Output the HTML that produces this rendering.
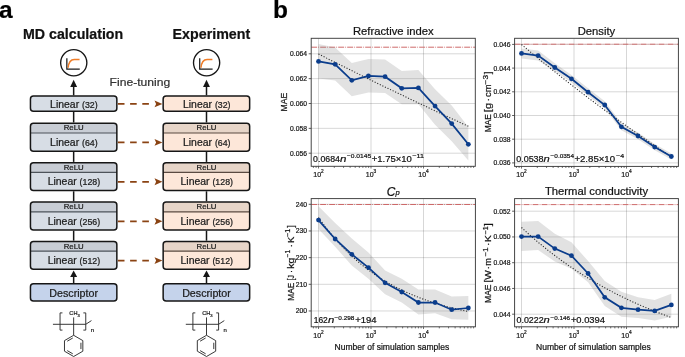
<!DOCTYPE html>
<html><head><meta charset="utf-8"><style>
html,body{margin:0;padding:0;background:#fff;width:685px;height:357px;overflow:hidden;font-family:"Liberation Sans",sans-serif;}
svg{display:block;will-change:transform}
svg text{stroke:#161616;stroke-width:0.22px;}
</style></head><body>
<svg width="685" height="357" viewBox="0 0 685 357" font-family="'Liberation Sans', sans-serif"><text x="-0.9" y="18.4" font-size="24.5" font-weight="bold" fill="#000">a</text>
<text x="272.9" y="18.4" font-size="24.5" font-weight="bold" fill="#000">b</text>
<text x="23" y="38.6" font-size="14.1" font-weight="bold" fill="#111" textLength="100.2" lengthAdjust="spacingAndGlyphs">MD calculation</text>
<text x="172.6" y="38.6" font-size="14.1" font-weight="bold" fill="#111" textLength="77.6" lengthAdjust="spacingAndGlyphs">Experiment</text>
<circle cx="73.75" cy="62.8" r="13.1" fill="#fff" stroke="#161616" stroke-width="1.35"/>
<path d="M66.85,58.30 V69.00 H79.75" fill="none" stroke="#1a1a1a" stroke-width="1.25"/>
<path d="M68.15,67.80 C68.65,61.80 70.35,59.50 74.25,59.50 L79.55,59.50" fill="none" stroke="#ef7d28" stroke-width="1.5"/>
<line x1="73.65" y1="95.3" x2="73.65" y2="86" stroke="#161616" stroke-width="1.5"/>
<path d="M73.65,79.8 L77.10000000000001,86.9 L70.2,86.9 Z" fill="#161616"/>
<rect x="30.45" y="96.05" width="86.40" height="15.10" rx="3" fill="#d7dde5" stroke="#161616" stroke-width="1.5"/>
<text x="73.90" y="107.8" text-anchor="middle" fill="#222"><tspan font-size="10.45">Linear</tspan><tspan font-size="8.8" dx="2.9">(32)</tspan></text>
<line x1="73.65" y1="111.90" x2="73.65" y2="122.50" stroke="#161616" stroke-width="1.5"/>
<rect x="30.45" y="123.25" width="86.40" height="27.90" rx="3" fill="#d7dde5"/>
<path d="M30.45,133.00 V126.25 Q30.45,123.25 33.45,123.25 H113.85 Q116.85,123.25 116.85,126.25 V133.00 Z" fill="#c8cdd5"/>
<line x1="30.45" y1="133.00" x2="116.85" y2="133.00" stroke="#4d535a" stroke-width="1.2"/>
<rect x="30.45" y="123.25" width="86.40" height="27.90" rx="3" fill="none" stroke="#161616" stroke-width="1.5"/>
<text x="73.65" y="130.40" text-anchor="middle" font-size="7.8" fill="#222">ReLU</text>
<text x="73.90" y="145.70" text-anchor="middle" fill="#222"><tspan font-size="10.45">Linear</tspan><tspan font-size="8.8" dx="2.9">(64)</tspan></text>
<line x1="73.65" y1="151.90" x2="73.65" y2="161.90" stroke="#161616" stroke-width="1.5"/>
<rect x="30.45" y="162.65" width="86.40" height="27.90" rx="3" fill="#d7dde5"/>
<path d="M30.45,172.40 V165.65 Q30.45,162.65 33.45,162.65 H113.85 Q116.85,162.65 116.85,165.65 V172.40 Z" fill="#c8cdd5"/>
<line x1="30.45" y1="172.40" x2="116.85" y2="172.40" stroke="#4d535a" stroke-width="1.2"/>
<rect x="30.45" y="162.65" width="86.40" height="27.90" rx="3" fill="none" stroke="#161616" stroke-width="1.5"/>
<text x="73.65" y="169.80" text-anchor="middle" font-size="7.8" fill="#222">ReLU</text>
<text x="73.90" y="185.10" text-anchor="middle" fill="#222"><tspan font-size="10.45">Linear</tspan><tspan font-size="8.8" dx="2.9">(128)</tspan></text>
<line x1="73.65" y1="191.30" x2="73.65" y2="201.30" stroke="#161616" stroke-width="1.5"/>
<rect x="30.45" y="202.05" width="86.40" height="27.90" rx="3" fill="#d7dde5"/>
<path d="M30.45,211.80 V205.05 Q30.45,202.05 33.45,202.05 H113.85 Q116.85,202.05 116.85,205.05 V211.80 Z" fill="#c8cdd5"/>
<line x1="30.45" y1="211.80" x2="116.85" y2="211.80" stroke="#4d535a" stroke-width="1.2"/>
<rect x="30.45" y="202.05" width="86.40" height="27.90" rx="3" fill="none" stroke="#161616" stroke-width="1.5"/>
<text x="73.65" y="209.20" text-anchor="middle" font-size="7.8" fill="#222">ReLU</text>
<text x="73.90" y="224.50" text-anchor="middle" fill="#222"><tspan font-size="10.45">Linear</tspan><tspan font-size="8.8" dx="2.9">(256)</tspan></text>
<line x1="73.65" y1="230.70" x2="73.65" y2="240.70" stroke="#161616" stroke-width="1.5"/>
<rect x="30.45" y="241.45" width="86.40" height="27.90" rx="3" fill="#d7dde5"/>
<path d="M30.45,251.20 V244.45 Q30.45,241.45 33.45,241.45 H113.85 Q116.85,241.45 116.85,244.45 V251.20 Z" fill="#c8cdd5"/>
<line x1="30.45" y1="251.20" x2="116.85" y2="251.20" stroke="#4d535a" stroke-width="1.2"/>
<rect x="30.45" y="241.45" width="86.40" height="27.90" rx="3" fill="none" stroke="#161616" stroke-width="1.5"/>
<text x="73.65" y="248.60" text-anchor="middle" font-size="7.8" fill="#222">ReLU</text>
<text x="73.90" y="263.90" text-anchor="middle" fill="#222"><tspan font-size="10.45">Linear</tspan><tspan font-size="8.8" dx="2.9">(512)</tspan></text>
<line x1="73.65" y1="283.1" x2="73.65" y2="276.5" stroke="#161616" stroke-width="1.5"/>
<path d="M73.65,270.6 L77.15,277 L70.15,277 Z" fill="#161616"/>
<rect x="30.45" y="283.85" width="86.40" height="17.10" rx="3" fill="#c5d3eb" stroke="#161616" stroke-width="1.5"/>
<text x="73.65" y="296.7" text-anchor="middle" font-size="10.7" fill="#222">Descriptor</text>
<g transform="translate(0.05,0)" stroke="#2e2e2e" stroke-width="0.95" fill="none"><path d="M62.4,312.9 H60 V330.1 H62.4"/><path d="M83.3,312.9 H85.7 V330.1 H83.3"/><path d="M52.9,324.3 H85.7 L91.4,320.6"/><path d="M73.6,317.4 V335.3"/><path d="M73.60,335.30 L82.78,340.60 L82.78,351.20 L73.60,356.50 L64.42,351.20 L64.42,340.60 Z"/><path d="M67.21,341.19 L72.71,338.01"/><path d="M80.88,342.72 L80.88,349.08"/><path d="M72.71,353.79 L67.21,350.61"/></g>
<text x="69.35" y="315.0" font-size="5.6" fill="#2a2a2a">CH<tspan font-size="4.2" dy="1.7">3</tspan></text>
<text x="90.65" y="331.9" font-size="6" fill="#2a2a2a">n</text>
<circle cx="206.60" cy="62.8" r="13.1" fill="#fff" stroke="#161616" stroke-width="1.35"/>
<path d="M199.70,58.30 V69.00 H212.60" fill="none" stroke="#1a1a1a" stroke-width="1.25"/>
<path d="M201.00,67.80 C201.50,61.80 203.20,59.50 207.10,59.50 L212.40,59.50" fill="none" stroke="#ef7d28" stroke-width="1.5"/>
<line x1="206.5" y1="95.3" x2="206.5" y2="86" stroke="#161616" stroke-width="1.5"/>
<path d="M206.5,79.8 L209.95,86.9 L203.05,86.9 Z" fill="#161616"/>
<rect x="163.15" y="96.05" width="86.50" height="15.10" rx="3" fill="#fde7d9" stroke="#161616" stroke-width="1.5"/>
<text x="206.75" y="107.8" text-anchor="middle" fill="#222"><tspan font-size="10.45">Linear</tspan><tspan font-size="8.8" dx="2.9">(32)</tspan></text>
<line x1="206.5" y1="111.90" x2="206.5" y2="122.50" stroke="#161616" stroke-width="1.5"/>
<rect x="163.15" y="123.25" width="86.50" height="27.90" rx="3" fill="#fde7d9"/>
<path d="M163.15,133.00 V126.25 Q163.15,123.25 166.15,123.25 H246.65 Q249.65,123.25 249.65,126.25 V133.00 Z" fill="#e7d5c8"/>
<line x1="163.15" y1="133.00" x2="249.65" y2="133.00" stroke="#5a4a41" stroke-width="1.2"/>
<rect x="163.15" y="123.25" width="86.50" height="27.90" rx="3" fill="none" stroke="#161616" stroke-width="1.5"/>
<text x="206.50" y="130.40" text-anchor="middle" font-size="7.8" fill="#222">ReLU</text>
<text x="206.75" y="145.70" text-anchor="middle" fill="#222"><tspan font-size="10.45">Linear</tspan><tspan font-size="8.8" dx="2.9">(64)</tspan></text>
<line x1="206.5" y1="151.90" x2="206.5" y2="161.90" stroke="#161616" stroke-width="1.5"/>
<rect x="163.15" y="162.65" width="86.50" height="27.90" rx="3" fill="#fde7d9"/>
<path d="M163.15,172.40 V165.65 Q163.15,162.65 166.15,162.65 H246.65 Q249.65,162.65 249.65,165.65 V172.40 Z" fill="#e7d5c8"/>
<line x1="163.15" y1="172.40" x2="249.65" y2="172.40" stroke="#5a4a41" stroke-width="1.2"/>
<rect x="163.15" y="162.65" width="86.50" height="27.90" rx="3" fill="none" stroke="#161616" stroke-width="1.5"/>
<text x="206.50" y="169.80" text-anchor="middle" font-size="7.8" fill="#222">ReLU</text>
<text x="206.75" y="185.10" text-anchor="middle" fill="#222"><tspan font-size="10.45">Linear</tspan><tspan font-size="8.8" dx="2.9">(128)</tspan></text>
<line x1="206.5" y1="191.30" x2="206.5" y2="201.30" stroke="#161616" stroke-width="1.5"/>
<rect x="163.15" y="202.05" width="86.50" height="27.90" rx="3" fill="#fde7d9"/>
<path d="M163.15,211.80 V205.05 Q163.15,202.05 166.15,202.05 H246.65 Q249.65,202.05 249.65,205.05 V211.80 Z" fill="#e7d5c8"/>
<line x1="163.15" y1="211.80" x2="249.65" y2="211.80" stroke="#5a4a41" stroke-width="1.2"/>
<rect x="163.15" y="202.05" width="86.50" height="27.90" rx="3" fill="none" stroke="#161616" stroke-width="1.5"/>
<text x="206.50" y="209.20" text-anchor="middle" font-size="7.8" fill="#222">ReLU</text>
<text x="206.75" y="224.50" text-anchor="middle" fill="#222"><tspan font-size="10.45">Linear</tspan><tspan font-size="8.8" dx="2.9">(256)</tspan></text>
<line x1="206.5" y1="230.70" x2="206.5" y2="240.70" stroke="#161616" stroke-width="1.5"/>
<rect x="163.15" y="241.45" width="86.50" height="27.90" rx="3" fill="#fde7d9"/>
<path d="M163.15,251.20 V244.45 Q163.15,241.45 166.15,241.45 H246.65 Q249.65,241.45 249.65,244.45 V251.20 Z" fill="#e7d5c8"/>
<line x1="163.15" y1="251.20" x2="249.65" y2="251.20" stroke="#5a4a41" stroke-width="1.2"/>
<rect x="163.15" y="241.45" width="86.50" height="27.90" rx="3" fill="none" stroke="#161616" stroke-width="1.5"/>
<text x="206.50" y="248.60" text-anchor="middle" font-size="7.8" fill="#222">ReLU</text>
<text x="206.75" y="263.90" text-anchor="middle" fill="#222"><tspan font-size="10.45">Linear</tspan><tspan font-size="8.8" dx="2.9">(512)</tspan></text>
<line x1="206.5" y1="283.1" x2="206.5" y2="276.5" stroke="#161616" stroke-width="1.5"/>
<path d="M206.5,270.6 L210.0,277 L203.0,277 Z" fill="#161616"/>
<rect x="163.15" y="283.85" width="86.50" height="17.10" rx="3" fill="#c5d3eb" stroke="#161616" stroke-width="1.5"/>
<text x="206.50" y="296.7" text-anchor="middle" font-size="10.7" fill="#222">Descriptor</text>
<g transform="translate(132.90,0)" stroke="#2e2e2e" stroke-width="0.95" fill="none"><path d="M62.4,312.9 H60 V330.1 H62.4"/><path d="M83.3,312.9 H85.7 V330.1 H83.3"/><path d="M52.9,324.3 H85.7 L91.4,320.6"/><path d="M73.6,317.4 V335.3"/><path d="M73.60,335.30 L82.78,340.60 L82.78,351.20 L73.60,356.50 L64.42,351.20 L64.42,340.60 Z"/><path d="M67.21,341.19 L72.71,338.01"/><path d="M80.88,342.72 L80.88,349.08"/><path d="M72.71,353.79 L67.21,350.61"/></g>
<text x="202.20" y="315.0" font-size="5.6" fill="#2a2a2a">CH<tspan font-size="4.2" dy="1.7">3</tspan></text>
<text x="223.50" y="331.9" font-size="6" fill="#2a2a2a">n</text>
<text x="109.6" y="85.8" font-size="11.5" fill="#333" style="stroke:#333" textLength="60.6" lengthAdjust="spacingAndGlyphs">Fine-tuning</text>
<line x1="117.9" y1="103.9" x2="154.0" y2="103.9" stroke="#8a4313" stroke-width="1.75" stroke-dasharray="6.6 5.6"/>
<path d="M162.4,103.9 L154.5,100.45 L156.1,103.9 L154.5,107.35 Z" fill="#8a4313"/>
<line x1="117.9" y1="142.4" x2="154.0" y2="142.4" stroke="#8a4313" stroke-width="1.75" stroke-dasharray="6.6 5.6"/>
<path d="M162.4,142.4 L154.5,138.95 L156.1,142.4 L154.5,145.85 Z" fill="#8a4313"/>
<line x1="117.9" y1="181.8" x2="154.0" y2="181.8" stroke="#8a4313" stroke-width="1.75" stroke-dasharray="6.6 5.6"/>
<path d="M162.4,181.8 L154.5,178.35 L156.1,181.8 L154.5,185.25 Z" fill="#8a4313"/>
<line x1="117.9" y1="221.3" x2="154.0" y2="221.3" stroke="#8a4313" stroke-width="1.75" stroke-dasharray="6.6 5.6"/>
<path d="M162.4,221.3 L154.5,217.85 L156.1,221.3 L154.5,224.75 Z" fill="#8a4313"/>
<line x1="117.9" y1="260.6" x2="154.0" y2="260.6" stroke="#8a4313" stroke-width="1.75" stroke-dasharray="6.6 5.6"/>
<path d="M162.4,260.6 L154.5,257.15 L156.1,260.6 L154.5,264.05 Z" fill="#8a4313"/>
<clipPath id="clip0"><rect x="311.2" y="38.3" width="164.10000000000002" height="128.0"/></clipPath>
<g clip-path="url(#clip0)">
<line x1="318.50" y1="38.3" x2="318.50" y2="166.3" stroke="#000" stroke-opacity="0.175" stroke-width="0.9"/>
<line x1="371.00" y1="38.3" x2="371.00" y2="166.3" stroke="#000" stroke-opacity="0.175" stroke-width="0.9"/>
<line x1="423.50" y1="38.3" x2="423.50" y2="166.3" stroke="#000" stroke-opacity="0.175" stroke-width="0.9"/>
<line x1="311.2" y1="53.80" x2="475.3" y2="53.80" stroke="#000" stroke-opacity="0.175" stroke-width="0.9"/>
<line x1="311.2" y1="78.65" x2="475.3" y2="78.65" stroke="#000" stroke-opacity="0.175" stroke-width="0.9"/>
<line x1="311.2" y1="103.50" x2="475.3" y2="103.50" stroke="#000" stroke-opacity="0.175" stroke-width="0.9"/>
<line x1="311.2" y1="128.35" x2="475.3" y2="128.35" stroke="#000" stroke-opacity="0.175" stroke-width="0.9"/>
<line x1="311.2" y1="153.20" x2="475.3" y2="153.20" stroke="#000" stroke-opacity="0.175" stroke-width="0.9"/>
<line x1="311.2" y1="47.2" x2="475.3" y2="47.2" stroke="#cb6262" stroke-width="0.95" stroke-dasharray="5.9 1.15 0.8 1.15"/>
<polygon points="318.50,44.00 335.15,47.50 351.80,63.00 368.45,59.00 385.10,59.40 401.75,70.90 418.40,70.10 435.05,89.20 451.70,105.60 468.35,127.00 468.35,160.40 451.70,141.30 435.05,124.70 418.40,104.20 401.75,104.30 385.10,93.10 368.45,92.50 351.80,96.20 335.15,80.40 318.50,78.50" fill="#7a7a7a" fill-opacity="0.22"/>
<polyline points="318.50,54.03 321.00,55.29 323.50,56.55 325.99,57.81 328.49,59.06 330.99,60.32 333.49,61.57 335.98,62.82 338.48,64.06 340.98,65.31 343.47,66.55 345.97,67.80 348.47,69.04 350.97,70.27 353.46,71.51 355.96,72.74 358.46,73.97 360.96,75.20 363.45,76.43 365.95,77.66 368.45,78.88 370.95,80.11 373.44,81.33 375.94,82.54 378.44,83.76 380.94,84.97 383.44,86.19 385.93,87.40 388.43,88.61 390.93,89.81 393.43,91.02 395.92,92.22 398.42,93.42 400.92,94.62 403.42,95.82 405.91,97.01 408.41,98.21 410.91,99.40 413.40,100.59 415.90,101.78 418.40,102.96 420.90,104.15 423.39,105.33 425.89,106.51 428.39,107.69 430.89,108.86 433.38,110.04 435.88,111.21 438.38,112.38 440.88,113.55 443.38,114.72 445.87,115.88 448.37,117.05 450.87,118.21 453.37,119.37 455.86,120.53 458.36,121.68 460.86,122.84 463.36,123.99 465.85,125.14 468.35,126.29" fill="none" stroke="#2a2a2a" stroke-width="1.1" stroke-dasharray="1.1 1.75"/>
<polyline points="318.50,61.40 335.15,64.30 351.80,80.30 368.45,76.00 385.10,76.70 401.75,88.30 418.40,87.90 435.05,106.10 451.70,123.60 468.35,144.30" fill="none" stroke="#0b3d8c" stroke-width="1.75"/>
<circle cx="318.50" cy="61.40" r="2.4" fill="#0b3d8c"/>
<circle cx="335.15" cy="64.30" r="2.4" fill="#0b3d8c"/>
<circle cx="351.80" cy="80.30" r="2.4" fill="#0b3d8c"/>
<circle cx="368.45" cy="76.00" r="2.4" fill="#0b3d8c"/>
<circle cx="385.10" cy="76.70" r="2.4" fill="#0b3d8c"/>
<circle cx="401.75" cy="88.30" r="2.4" fill="#0b3d8c"/>
<circle cx="418.40" cy="87.90" r="2.4" fill="#0b3d8c"/>
<circle cx="435.05" cy="106.10" r="2.4" fill="#0b3d8c"/>
<circle cx="451.70" cy="123.60" r="2.4" fill="#0b3d8c"/>
<circle cx="468.35" cy="144.30" r="2.4" fill="#0b3d8c"/>
</g>
<rect x="311.2" y="38.3" width="164.10" height="128.00" fill="none" stroke="#3d3d3d" stroke-width="0.95"/>
<line x1="308.7" y1="53.80" x2="311.2" y2="53.80" stroke="#333" stroke-width="0.8"/>
<text x="307.00" y="56.25" font-size="6.9" text-anchor="end" fill="#222" textLength="16.9" lengthAdjust="spacingAndGlyphs">0.064</text>
<line x1="308.7" y1="78.65" x2="311.2" y2="78.65" stroke="#333" stroke-width="0.8"/>
<text x="307.00" y="81.10" font-size="6.9" text-anchor="end" fill="#222" textLength="16.9" lengthAdjust="spacingAndGlyphs">0.062</text>
<line x1="308.7" y1="103.50" x2="311.2" y2="103.50" stroke="#333" stroke-width="0.8"/>
<text x="307.00" y="105.95" font-size="6.9" text-anchor="end" fill="#222" textLength="16.9" lengthAdjust="spacingAndGlyphs">0.060</text>
<line x1="308.7" y1="128.35" x2="311.2" y2="128.35" stroke="#333" stroke-width="0.8"/>
<text x="307.00" y="130.80" font-size="6.9" text-anchor="end" fill="#222" textLength="16.9" lengthAdjust="spacingAndGlyphs">0.058</text>
<line x1="308.7" y1="153.20" x2="311.2" y2="153.20" stroke="#333" stroke-width="0.8"/>
<text x="307.00" y="155.65" font-size="6.9" text-anchor="end" fill="#222" textLength="16.9" lengthAdjust="spacingAndGlyphs">0.056</text>
<line x1="313.41" y1="166.3" x2="313.41" y2="167.9" stroke="#333" stroke-width="0.7"/>
<line x1="316.10" y1="166.3" x2="316.10" y2="167.9" stroke="#333" stroke-width="0.7"/>
<line x1="318.50" y1="166.3" x2="318.50" y2="168.5" stroke="#333" stroke-width="0.7"/>
<line x1="334.30" y1="166.3" x2="334.30" y2="167.9" stroke="#333" stroke-width="0.7"/>
<line x1="343.55" y1="166.3" x2="343.55" y2="167.9" stroke="#333" stroke-width="0.7"/>
<line x1="350.11" y1="166.3" x2="350.11" y2="167.9" stroke="#333" stroke-width="0.7"/>
<line x1="355.20" y1="166.3" x2="355.20" y2="167.9" stroke="#333" stroke-width="0.7"/>
<line x1="359.35" y1="166.3" x2="359.35" y2="167.9" stroke="#333" stroke-width="0.7"/>
<line x1="362.87" y1="166.3" x2="362.87" y2="167.9" stroke="#333" stroke-width="0.7"/>
<line x1="365.91" y1="166.3" x2="365.91" y2="167.9" stroke="#333" stroke-width="0.7"/>
<line x1="368.60" y1="166.3" x2="368.60" y2="167.9" stroke="#333" stroke-width="0.7"/>
<line x1="371.00" y1="166.3" x2="371.00" y2="168.5" stroke="#333" stroke-width="0.7"/>
<line x1="386.80" y1="166.3" x2="386.80" y2="167.9" stroke="#333" stroke-width="0.7"/>
<line x1="396.05" y1="166.3" x2="396.05" y2="167.9" stroke="#333" stroke-width="0.7"/>
<line x1="402.61" y1="166.3" x2="402.61" y2="167.9" stroke="#333" stroke-width="0.7"/>
<line x1="407.70" y1="166.3" x2="407.70" y2="167.9" stroke="#333" stroke-width="0.7"/>
<line x1="411.85" y1="166.3" x2="411.85" y2="167.9" stroke="#333" stroke-width="0.7"/>
<line x1="415.37" y1="166.3" x2="415.37" y2="167.9" stroke="#333" stroke-width="0.7"/>
<line x1="418.41" y1="166.3" x2="418.41" y2="167.9" stroke="#333" stroke-width="0.7"/>
<line x1="421.10" y1="166.3" x2="421.10" y2="167.9" stroke="#333" stroke-width="0.7"/>
<line x1="423.50" y1="166.3" x2="423.50" y2="168.5" stroke="#333" stroke-width="0.7"/>
<line x1="439.30" y1="166.3" x2="439.30" y2="167.9" stroke="#333" stroke-width="0.7"/>
<line x1="448.55" y1="166.3" x2="448.55" y2="167.9" stroke="#333" stroke-width="0.7"/>
<line x1="455.11" y1="166.3" x2="455.11" y2="167.9" stroke="#333" stroke-width="0.7"/>
<line x1="460.20" y1="166.3" x2="460.20" y2="167.9" stroke="#333" stroke-width="0.7"/>
<line x1="464.35" y1="166.3" x2="464.35" y2="167.9" stroke="#333" stroke-width="0.7"/>
<line x1="467.87" y1="166.3" x2="467.87" y2="167.9" stroke="#333" stroke-width="0.7"/>
<line x1="470.91" y1="166.3" x2="470.91" y2="167.9" stroke="#333" stroke-width="0.7"/>
<line x1="473.60" y1="166.3" x2="473.60" y2="167.9" stroke="#333" stroke-width="0.7"/>
<text x="313.30" y="177.1" font-size="7.0" fill="#222">10<tspan font-size="4.8" dy="-4.3">2</tspan></text>
<text x="365.80" y="177.1" font-size="7.0" fill="#222">10<tspan font-size="4.8" dy="-4.3">3</tspan></text>
<text x="418.30" y="177.1" font-size="7.0" fill="#222">10<tspan font-size="4.8" dy="-4.3">4</tspan></text>
<text x="393.25" y="34.7" font-size="11.25" text-anchor="middle" fill="#111">Refractive index</text>
<text transform="translate(287.3,0) rotate(-90)" fill="#111" font-size="9.2"><tspan x="-111.45" y="0" textLength="18.70" lengthAdjust="spacingAndGlyphs">MAE</tspan></text>
<clipPath id="clip1"><rect x="514.6" y="38.3" width="163.79999999999995" height="128.10000000000002"/></clipPath>
<g clip-path="url(#clip1)">
<line x1="521.50" y1="38.3" x2="521.50" y2="166.4" stroke="#000" stroke-opacity="0.175" stroke-width="0.9"/>
<line x1="574.00" y1="38.3" x2="574.00" y2="166.4" stroke="#000" stroke-opacity="0.175" stroke-width="0.9"/>
<line x1="626.50" y1="38.3" x2="626.50" y2="166.4" stroke="#000" stroke-opacity="0.175" stroke-width="0.9"/>
<line x1="514.6" y1="44.40" x2="678.4" y2="44.40" stroke="#000" stroke-opacity="0.175" stroke-width="0.9"/>
<line x1="514.6" y1="68.10" x2="678.4" y2="68.10" stroke="#000" stroke-opacity="0.175" stroke-width="0.9"/>
<line x1="514.6" y1="91.80" x2="678.4" y2="91.80" stroke="#000" stroke-opacity="0.175" stroke-width="0.9"/>
<line x1="514.6" y1="115.50" x2="678.4" y2="115.50" stroke="#000" stroke-opacity="0.175" stroke-width="0.9"/>
<line x1="514.6" y1="139.20" x2="678.4" y2="139.20" stroke="#000" stroke-opacity="0.175" stroke-width="0.9"/>
<line x1="514.6" y1="162.90" x2="678.4" y2="162.90" stroke="#000" stroke-opacity="0.175" stroke-width="0.9"/>
<line x1="514.6" y1="44.2" x2="678.4" y2="44.2" stroke="#cb6262" stroke-width="0.95" stroke-dasharray="5.9 1.15 0.8 1.15"/>
<polygon points="521.50,48.60 538.15,50.40 554.80,63.30 571.45,75.00 588.10,88.30 604.75,101.30 621.40,123.20 638.05,132.60 654.70,143.90 671.35,153.40 671.35,159.60 654.70,150.20 638.05,139.30 621.40,130.20 604.75,108.50 588.10,95.80 571.45,82.60 554.80,71.30 538.15,60.40 521.50,58.60" fill="#7a7a7a" fill-opacity="0.22"/>
<polyline points="521.50,44.50 524.00,46.59 526.50,48.68 528.99,50.76 531.49,52.83 533.99,54.90 536.49,56.95 538.98,59.00 541.48,61.04 543.98,63.07 546.48,65.10 548.97,67.11 551.47,69.12 553.97,71.12 556.47,73.11 558.96,75.10 561.46,77.08 563.96,79.05 566.46,81.01 568.95,82.97 571.45,84.91 573.95,86.85 576.44,88.78 578.94,90.71 581.44,92.63 583.94,94.54 586.43,96.44 588.93,98.33 591.43,100.22 593.93,102.10 596.42,103.98 598.92,105.84 601.42,107.70 603.92,109.55 606.41,111.40 608.91,113.23 611.41,115.06 613.91,116.89 616.40,118.70 618.90,120.51 621.40,122.31 623.90,124.11 626.39,125.90 628.89,127.68 631.39,129.45 633.89,131.22 636.38,132.98 638.88,134.73 641.38,136.48 643.88,138.22 646.38,139.95 648.87,141.68 651.37,143.40 653.87,145.11 656.37,146.82 658.86,148.52 661.36,150.21 663.86,151.90 666.36,153.58 668.85,155.26 671.35,156.92" fill="none" stroke="#2a2a2a" stroke-width="1.1" stroke-dasharray="1.1 1.75"/>
<polyline points="521.50,53.40 538.15,55.60 554.80,67.50 571.45,78.80 588.10,92.20 604.75,105.00 621.40,126.80 638.05,136.00 654.70,147.10 671.35,156.50" fill="none" stroke="#0b3d8c" stroke-width="1.75"/>
<circle cx="521.50" cy="53.40" r="2.4" fill="#0b3d8c"/>
<circle cx="538.15" cy="55.60" r="2.4" fill="#0b3d8c"/>
<circle cx="554.80" cy="67.50" r="2.4" fill="#0b3d8c"/>
<circle cx="571.45" cy="78.80" r="2.4" fill="#0b3d8c"/>
<circle cx="588.10" cy="92.20" r="2.4" fill="#0b3d8c"/>
<circle cx="604.75" cy="105.00" r="2.4" fill="#0b3d8c"/>
<circle cx="621.40" cy="126.80" r="2.4" fill="#0b3d8c"/>
<circle cx="638.05" cy="136.00" r="2.4" fill="#0b3d8c"/>
<circle cx="654.70" cy="147.10" r="2.4" fill="#0b3d8c"/>
<circle cx="671.35" cy="156.50" r="2.4" fill="#0b3d8c"/>
</g>
<rect x="514.6" y="38.3" width="163.80" height="128.10" fill="none" stroke="#3d3d3d" stroke-width="0.95"/>
<line x1="512.1" y1="44.40" x2="514.6" y2="44.40" stroke="#333" stroke-width="0.8"/>
<text x="510.40" y="46.85" font-size="6.9" text-anchor="end" fill="#222" textLength="16.9" lengthAdjust="spacingAndGlyphs">0.046</text>
<line x1="512.1" y1="68.10" x2="514.6" y2="68.10" stroke="#333" stroke-width="0.8"/>
<text x="510.40" y="70.55" font-size="6.9" text-anchor="end" fill="#222" textLength="16.9" lengthAdjust="spacingAndGlyphs">0.044</text>
<line x1="512.1" y1="91.80" x2="514.6" y2="91.80" stroke="#333" stroke-width="0.8"/>
<text x="510.40" y="94.25" font-size="6.9" text-anchor="end" fill="#222" textLength="16.9" lengthAdjust="spacingAndGlyphs">0.042</text>
<line x1="512.1" y1="115.50" x2="514.6" y2="115.50" stroke="#333" stroke-width="0.8"/>
<text x="510.40" y="117.95" font-size="6.9" text-anchor="end" fill="#222" textLength="16.9" lengthAdjust="spacingAndGlyphs">0.040</text>
<line x1="512.1" y1="139.20" x2="514.6" y2="139.20" stroke="#333" stroke-width="0.8"/>
<text x="510.40" y="141.65" font-size="6.9" text-anchor="end" fill="#222" textLength="16.9" lengthAdjust="spacingAndGlyphs">0.038</text>
<line x1="512.1" y1="162.90" x2="514.6" y2="162.90" stroke="#333" stroke-width="0.8"/>
<text x="510.40" y="165.35" font-size="6.9" text-anchor="end" fill="#222" textLength="16.9" lengthAdjust="spacingAndGlyphs">0.036</text>
<line x1="516.41" y1="166.4" x2="516.41" y2="168.0" stroke="#333" stroke-width="0.7"/>
<line x1="519.10" y1="166.4" x2="519.10" y2="168.0" stroke="#333" stroke-width="0.7"/>
<line x1="521.50" y1="166.4" x2="521.50" y2="168.6" stroke="#333" stroke-width="0.7"/>
<line x1="537.30" y1="166.4" x2="537.30" y2="168.0" stroke="#333" stroke-width="0.7"/>
<line x1="546.55" y1="166.4" x2="546.55" y2="168.0" stroke="#333" stroke-width="0.7"/>
<line x1="553.11" y1="166.4" x2="553.11" y2="168.0" stroke="#333" stroke-width="0.7"/>
<line x1="558.20" y1="166.4" x2="558.20" y2="168.0" stroke="#333" stroke-width="0.7"/>
<line x1="562.35" y1="166.4" x2="562.35" y2="168.0" stroke="#333" stroke-width="0.7"/>
<line x1="565.87" y1="166.4" x2="565.87" y2="168.0" stroke="#333" stroke-width="0.7"/>
<line x1="568.91" y1="166.4" x2="568.91" y2="168.0" stroke="#333" stroke-width="0.7"/>
<line x1="571.60" y1="166.4" x2="571.60" y2="168.0" stroke="#333" stroke-width="0.7"/>
<line x1="574.00" y1="166.4" x2="574.00" y2="168.6" stroke="#333" stroke-width="0.7"/>
<line x1="589.80" y1="166.4" x2="589.80" y2="168.0" stroke="#333" stroke-width="0.7"/>
<line x1="599.05" y1="166.4" x2="599.05" y2="168.0" stroke="#333" stroke-width="0.7"/>
<line x1="605.61" y1="166.4" x2="605.61" y2="168.0" stroke="#333" stroke-width="0.7"/>
<line x1="610.70" y1="166.4" x2="610.70" y2="168.0" stroke="#333" stroke-width="0.7"/>
<line x1="614.85" y1="166.4" x2="614.85" y2="168.0" stroke="#333" stroke-width="0.7"/>
<line x1="618.37" y1="166.4" x2="618.37" y2="168.0" stroke="#333" stroke-width="0.7"/>
<line x1="621.41" y1="166.4" x2="621.41" y2="168.0" stroke="#333" stroke-width="0.7"/>
<line x1="624.10" y1="166.4" x2="624.10" y2="168.0" stroke="#333" stroke-width="0.7"/>
<line x1="626.50" y1="166.4" x2="626.50" y2="168.6" stroke="#333" stroke-width="0.7"/>
<line x1="642.30" y1="166.4" x2="642.30" y2="168.0" stroke="#333" stroke-width="0.7"/>
<line x1="651.55" y1="166.4" x2="651.55" y2="168.0" stroke="#333" stroke-width="0.7"/>
<line x1="658.11" y1="166.4" x2="658.11" y2="168.0" stroke="#333" stroke-width="0.7"/>
<line x1="663.20" y1="166.4" x2="663.20" y2="168.0" stroke="#333" stroke-width="0.7"/>
<line x1="667.35" y1="166.4" x2="667.35" y2="168.0" stroke="#333" stroke-width="0.7"/>
<line x1="670.87" y1="166.4" x2="670.87" y2="168.0" stroke="#333" stroke-width="0.7"/>
<line x1="673.91" y1="166.4" x2="673.91" y2="168.0" stroke="#333" stroke-width="0.7"/>
<line x1="676.60" y1="166.4" x2="676.60" y2="168.0" stroke="#333" stroke-width="0.7"/>
<text x="516.30" y="177.1" font-size="7.0" fill="#222">10<tspan font-size="4.8" dy="-4.3">2</tspan></text>
<text x="568.80" y="177.1" font-size="7.0" fill="#222">10<tspan font-size="4.8" dy="-4.3">3</tspan></text>
<text x="621.30" y="177.1" font-size="7.0" fill="#222">10<tspan font-size="4.8" dy="-4.3">4</tspan></text>
<text x="596.50" y="34.7" font-size="11.25" text-anchor="middle" fill="#111">Density</text>
<text transform="translate(491.3,0) rotate(-90)" fill="#111" font-size="9.2"><tspan x="-132.25" y="0" textLength="18.20" lengthAdjust="spacingAndGlyphs">MAE</tspan><tspan x="-112.15" y="0" textLength="9.10" lengthAdjust="spacingAndGlyphs">[g</tspan><tspan x="-99.80" y="0" text-anchor="middle">·</tspan><tspan x="-96.95" y="0" textLength="12.60" lengthAdjust="spacingAndGlyphs">cm</tspan><tspan x="-84.40" y="-3.4" font-size="6.4" textLength="9.50" lengthAdjust="spacingAndGlyphs">−3</tspan><tspan x="-74.25" y="0" textLength="2.80" lengthAdjust="spacingAndGlyphs">]</tspan></text>
<clipPath id="clip2"><rect x="311.2" y="198.6" width="164.2" height="128.20000000000002"/></clipPath>
<g clip-path="url(#clip2)">
<line x1="318.50" y1="198.6" x2="318.50" y2="326.8" stroke="#000" stroke-opacity="0.175" stroke-width="0.9"/>
<line x1="371.00" y1="198.6" x2="371.00" y2="326.8" stroke="#000" stroke-opacity="0.175" stroke-width="0.9"/>
<line x1="423.50" y1="198.6" x2="423.50" y2="326.8" stroke="#000" stroke-opacity="0.175" stroke-width="0.9"/>
<line x1="311.2" y1="204.30" x2="475.4" y2="204.30" stroke="#000" stroke-opacity="0.175" stroke-width="0.9"/>
<line x1="311.2" y1="230.97" x2="475.4" y2="230.97" stroke="#000" stroke-opacity="0.175" stroke-width="0.9"/>
<line x1="311.2" y1="257.64" x2="475.4" y2="257.64" stroke="#000" stroke-opacity="0.175" stroke-width="0.9"/>
<line x1="311.2" y1="284.31" x2="475.4" y2="284.31" stroke="#000" stroke-opacity="0.175" stroke-width="0.9"/>
<line x1="311.2" y1="310.98" x2="475.4" y2="310.98" stroke="#000" stroke-opacity="0.175" stroke-width="0.9"/>
<line x1="311.2" y1="204.5" x2="475.4" y2="204.5" stroke="#cb6262" stroke-width="0.95" stroke-dasharray="5.9 1.15 0.8 1.15"/>
<polygon points="318.50,206.30 335.15,223.00 351.80,238.50 368.45,252.50 385.10,270.40 401.75,278.70 418.40,289.40 435.05,289.40 451.70,296.60 468.35,295.90 468.35,319.70 451.70,319.20 435.05,313.20 418.40,314.40 401.75,302.50 385.10,294.20 368.45,278.80 351.80,265.50 335.15,246.80 318.50,229.00" fill="#7a7a7a" fill-opacity="0.22"/>
<polyline points="318.50,217.45 321.00,220.97 323.50,224.37 325.99,227.67 328.49,230.86 330.99,233.94 333.49,236.93 335.98,239.82 338.48,242.62 340.98,245.33 343.47,247.96 345.97,250.49 348.47,252.95 350.97,255.33 353.46,257.63 355.96,259.86 358.46,262.01 360.96,264.10 363.45,266.12 365.95,268.07 368.45,269.96 370.95,271.80 373.44,273.57 375.94,275.28 378.44,276.94 380.94,278.55 383.44,280.11 385.93,281.61 388.43,283.07 390.93,284.48 393.43,285.84 395.92,287.16 398.42,288.44 400.92,289.68 403.42,290.88 405.91,292.04 408.41,293.16 410.91,294.25 413.40,295.30 415.90,296.32 418.40,297.30 420.90,298.25 423.39,299.18 425.89,300.07 428.39,300.93 430.89,301.77 433.38,302.58 435.88,303.36 438.38,304.12 440.88,304.86 443.38,305.57 445.87,306.25 448.37,306.92 450.87,307.56 453.37,308.19 455.86,308.79 458.36,309.38 460.86,309.94 463.36,310.49 465.85,311.02 468.35,311.53" fill="none" stroke="#2a2a2a" stroke-width="1.1" stroke-dasharray="1.1 1.75"/>
<polyline points="318.50,220.10 335.15,239.00 351.80,254.30 368.45,267.60 385.10,282.80 401.75,292.00 418.40,302.50 435.05,302.50 451.70,309.70 468.35,308.00" fill="none" stroke="#0b3d8c" stroke-width="1.75"/>
<circle cx="318.50" cy="220.10" r="2.4" fill="#0b3d8c"/>
<circle cx="335.15" cy="239.00" r="2.4" fill="#0b3d8c"/>
<circle cx="351.80" cy="254.30" r="2.4" fill="#0b3d8c"/>
<circle cx="368.45" cy="267.60" r="2.4" fill="#0b3d8c"/>
<circle cx="385.10" cy="282.80" r="2.4" fill="#0b3d8c"/>
<circle cx="401.75" cy="292.00" r="2.4" fill="#0b3d8c"/>
<circle cx="418.40" cy="302.50" r="2.4" fill="#0b3d8c"/>
<circle cx="435.05" cy="302.50" r="2.4" fill="#0b3d8c"/>
<circle cx="451.70" cy="309.70" r="2.4" fill="#0b3d8c"/>
<circle cx="468.35" cy="308.00" r="2.4" fill="#0b3d8c"/>
</g>
<rect x="311.2" y="198.6" width="164.20" height="128.20" fill="none" stroke="#3d3d3d" stroke-width="0.95"/>
<line x1="308.7" y1="204.30" x2="311.2" y2="204.30" stroke="#333" stroke-width="0.8"/>
<text x="307.00" y="206.75" font-size="6.9" text-anchor="end" fill="#222" textLength="11.34" lengthAdjust="spacingAndGlyphs">240</text>
<line x1="308.7" y1="230.97" x2="311.2" y2="230.97" stroke="#333" stroke-width="0.8"/>
<text x="307.00" y="233.42" font-size="6.9" text-anchor="end" fill="#222" textLength="11.34" lengthAdjust="spacingAndGlyphs">230</text>
<line x1="308.7" y1="257.64" x2="311.2" y2="257.64" stroke="#333" stroke-width="0.8"/>
<text x="307.00" y="260.09" font-size="6.9" text-anchor="end" fill="#222" textLength="11.34" lengthAdjust="spacingAndGlyphs">220</text>
<line x1="308.7" y1="284.31" x2="311.2" y2="284.31" stroke="#333" stroke-width="0.8"/>
<text x="307.00" y="286.76" font-size="6.9" text-anchor="end" fill="#222" textLength="11.34" lengthAdjust="spacingAndGlyphs">210</text>
<line x1="308.7" y1="310.98" x2="311.2" y2="310.98" stroke="#333" stroke-width="0.8"/>
<text x="307.00" y="313.43" font-size="6.9" text-anchor="end" fill="#222" textLength="11.34" lengthAdjust="spacingAndGlyphs">200</text>
<line x1="313.41" y1="326.8" x2="313.41" y2="328.40000000000003" stroke="#333" stroke-width="0.7"/>
<line x1="316.10" y1="326.8" x2="316.10" y2="328.40000000000003" stroke="#333" stroke-width="0.7"/>
<line x1="318.50" y1="326.8" x2="318.50" y2="329.0" stroke="#333" stroke-width="0.7"/>
<line x1="334.30" y1="326.8" x2="334.30" y2="328.40000000000003" stroke="#333" stroke-width="0.7"/>
<line x1="343.55" y1="326.8" x2="343.55" y2="328.40000000000003" stroke="#333" stroke-width="0.7"/>
<line x1="350.11" y1="326.8" x2="350.11" y2="328.40000000000003" stroke="#333" stroke-width="0.7"/>
<line x1="355.20" y1="326.8" x2="355.20" y2="328.40000000000003" stroke="#333" stroke-width="0.7"/>
<line x1="359.35" y1="326.8" x2="359.35" y2="328.40000000000003" stroke="#333" stroke-width="0.7"/>
<line x1="362.87" y1="326.8" x2="362.87" y2="328.40000000000003" stroke="#333" stroke-width="0.7"/>
<line x1="365.91" y1="326.8" x2="365.91" y2="328.40000000000003" stroke="#333" stroke-width="0.7"/>
<line x1="368.60" y1="326.8" x2="368.60" y2="328.40000000000003" stroke="#333" stroke-width="0.7"/>
<line x1="371.00" y1="326.8" x2="371.00" y2="329.0" stroke="#333" stroke-width="0.7"/>
<line x1="386.80" y1="326.8" x2="386.80" y2="328.40000000000003" stroke="#333" stroke-width="0.7"/>
<line x1="396.05" y1="326.8" x2="396.05" y2="328.40000000000003" stroke="#333" stroke-width="0.7"/>
<line x1="402.61" y1="326.8" x2="402.61" y2="328.40000000000003" stroke="#333" stroke-width="0.7"/>
<line x1="407.70" y1="326.8" x2="407.70" y2="328.40000000000003" stroke="#333" stroke-width="0.7"/>
<line x1="411.85" y1="326.8" x2="411.85" y2="328.40000000000003" stroke="#333" stroke-width="0.7"/>
<line x1="415.37" y1="326.8" x2="415.37" y2="328.40000000000003" stroke="#333" stroke-width="0.7"/>
<line x1="418.41" y1="326.8" x2="418.41" y2="328.40000000000003" stroke="#333" stroke-width="0.7"/>
<line x1="421.10" y1="326.8" x2="421.10" y2="328.40000000000003" stroke="#333" stroke-width="0.7"/>
<line x1="423.50" y1="326.8" x2="423.50" y2="329.0" stroke="#333" stroke-width="0.7"/>
<line x1="439.30" y1="326.8" x2="439.30" y2="328.40000000000003" stroke="#333" stroke-width="0.7"/>
<line x1="448.55" y1="326.8" x2="448.55" y2="328.40000000000003" stroke="#333" stroke-width="0.7"/>
<line x1="455.11" y1="326.8" x2="455.11" y2="328.40000000000003" stroke="#333" stroke-width="0.7"/>
<line x1="460.20" y1="326.8" x2="460.20" y2="328.40000000000003" stroke="#333" stroke-width="0.7"/>
<line x1="464.35" y1="326.8" x2="464.35" y2="328.40000000000003" stroke="#333" stroke-width="0.7"/>
<line x1="467.87" y1="326.8" x2="467.87" y2="328.40000000000003" stroke="#333" stroke-width="0.7"/>
<line x1="470.91" y1="326.8" x2="470.91" y2="328.40000000000003" stroke="#333" stroke-width="0.7"/>
<line x1="473.60" y1="326.8" x2="473.60" y2="328.40000000000003" stroke="#333" stroke-width="0.7"/>
<text x="313.30" y="337.9" font-size="7.0" fill="#222">10<tspan font-size="4.8" dy="-4.3">2</tspan></text>
<text x="365.80" y="337.9" font-size="7.0" fill="#222">10<tspan font-size="4.8" dy="-4.3">3</tspan></text>
<text x="418.30" y="337.9" font-size="7.0" fill="#222">10<tspan font-size="4.8" dy="-4.3">4</tspan></text>
<text x="386.80" y="195.80" font-size="12" font-style="italic" fill="#111">C</text>
<text x="395.40" y="195.30" font-size="7.6" font-style="italic" fill="#111">p</text>
<text transform="translate(293.5,0) rotate(-90)" fill="#111" font-size="9.2"><tspan x="-300.75" y="0" textLength="18.00" lengthAdjust="spacingAndGlyphs">MAE</tspan><tspan x="-280.55" y="0" textLength="5.50" lengthAdjust="spacingAndGlyphs">[J</tspan><tspan x="-271.40" y="0" text-anchor="middle">·</tspan><tspan x="-268.85" y="0" textLength="11.10" lengthAdjust="spacingAndGlyphs">kg</tspan><tspan x="-257.20" y="-3.4" font-size="6.4" textLength="7.40" lengthAdjust="spacingAndGlyphs">−1</tspan><tspan x="-245.80" y="0" text-anchor="middle">·</tspan><tspan x="-243.05" y="0" textLength="6.30" lengthAdjust="spacingAndGlyphs">K</tspan><tspan x="-236.80" y="-3.4" font-size="6.4" textLength="8.10" lengthAdjust="spacingAndGlyphs">−1</tspan><tspan x="-227.75" y="0" textLength="2.70" lengthAdjust="spacingAndGlyphs">]</tspan></text>
<text x="334.5" y="350.3" font-size="8.6" fill="#111" textLength="114.7" lengthAdjust="spacingAndGlyphs">Number of simulation samples</text>
<clipPath id="clip3"><rect x="514.6" y="198.6" width="163.79999999999995" height="128.20000000000002"/></clipPath>
<g clip-path="url(#clip3)">
<line x1="521.50" y1="198.6" x2="521.50" y2="326.8" stroke="#000" stroke-opacity="0.175" stroke-width="0.9"/>
<line x1="574.00" y1="198.6" x2="574.00" y2="326.8" stroke="#000" stroke-opacity="0.175" stroke-width="0.9"/>
<line x1="626.50" y1="198.6" x2="626.50" y2="326.8" stroke="#000" stroke-opacity="0.175" stroke-width="0.9"/>
<line x1="514.6" y1="211.20" x2="678.4" y2="211.20" stroke="#000" stroke-opacity="0.175" stroke-width="0.9"/>
<line x1="514.6" y1="236.95" x2="678.4" y2="236.95" stroke="#000" stroke-opacity="0.175" stroke-width="0.9"/>
<line x1="514.6" y1="262.70" x2="678.4" y2="262.70" stroke="#000" stroke-opacity="0.175" stroke-width="0.9"/>
<line x1="514.6" y1="288.45" x2="678.4" y2="288.45" stroke="#000" stroke-opacity="0.175" stroke-width="0.9"/>
<line x1="514.6" y1="314.20" x2="678.4" y2="314.20" stroke="#000" stroke-opacity="0.175" stroke-width="0.9"/>
<line x1="514.6" y1="204.6" x2="678.4" y2="204.6" stroke="#cb6262" stroke-width="0.95" stroke-dasharray="5.9 1.15 0.8 1.15"/>
<polygon points="521.50,221.80 538.15,221.10 554.80,233.70 571.45,242.30 588.10,261.00 604.75,281.10 621.40,291.80 638.05,297.30 654.70,300.10 671.35,293.70 671.35,316.80 654.70,320.40 638.05,318.00 621.40,316.80 604.75,306.10 588.10,282.30 571.45,268.70 554.80,261.60 538.15,250.00 521.50,250.90" fill="#7a7a7a" fill-opacity="0.22"/>
<polyline points="521.50,227.51 524.00,229.82 526.50,232.10 528.99,234.35 531.49,236.55 533.99,238.72 536.49,240.86 538.98,242.96 541.48,245.03 543.98,247.07 546.48,249.07 548.97,251.05 551.47,252.99 553.97,254.90 556.47,256.78 558.96,258.63 561.46,260.45 563.96,262.24 566.46,264.01 568.95,265.74 571.45,267.45 573.95,269.13 576.44,270.79 578.94,272.42 581.44,274.02 583.94,275.60 586.43,277.15 588.93,278.68 591.43,280.18 593.93,281.66 596.42,283.11 598.92,284.55 601.42,285.96 603.92,287.35 606.41,288.71 608.91,290.05 611.41,291.38 613.91,292.68 616.40,293.96 618.90,295.22 621.40,296.46 623.90,297.68 626.39,298.88 628.89,300.07 631.39,301.23 633.89,302.38 636.38,303.50 638.88,304.61 641.38,305.70 643.88,306.78 646.38,307.84 648.87,308.88 651.37,309.90 653.87,310.91 656.37,311.90 658.86,312.88 661.36,313.84 663.86,314.78 666.36,315.71 668.85,316.63 671.35,317.53" fill="none" stroke="#2a2a2a" stroke-width="1.1" stroke-dasharray="1.1 1.75"/>
<polyline points="521.50,236.60 538.15,236.60 554.80,248.60 571.45,255.70 588.10,273.50 604.75,297.30 621.40,307.80 638.05,309.70 654.70,310.90 671.35,304.90" fill="none" stroke="#0b3d8c" stroke-width="1.75"/>
<circle cx="521.50" cy="236.60" r="2.4" fill="#0b3d8c"/>
<circle cx="538.15" cy="236.60" r="2.4" fill="#0b3d8c"/>
<circle cx="554.80" cy="248.60" r="2.4" fill="#0b3d8c"/>
<circle cx="571.45" cy="255.70" r="2.4" fill="#0b3d8c"/>
<circle cx="588.10" cy="273.50" r="2.4" fill="#0b3d8c"/>
<circle cx="604.75" cy="297.30" r="2.4" fill="#0b3d8c"/>
<circle cx="621.40" cy="307.80" r="2.4" fill="#0b3d8c"/>
<circle cx="638.05" cy="309.70" r="2.4" fill="#0b3d8c"/>
<circle cx="654.70" cy="310.90" r="2.4" fill="#0b3d8c"/>
<circle cx="671.35" cy="304.90" r="2.4" fill="#0b3d8c"/>
</g>
<rect x="514.6" y="198.6" width="163.80" height="128.20" fill="none" stroke="#3d3d3d" stroke-width="0.95"/>
<line x1="512.1" y1="211.20" x2="514.6" y2="211.20" stroke="#333" stroke-width="0.8"/>
<text x="510.40" y="213.65" font-size="6.9" text-anchor="end" fill="#222" textLength="16.9" lengthAdjust="spacingAndGlyphs">0.052</text>
<line x1="512.1" y1="236.95" x2="514.6" y2="236.95" stroke="#333" stroke-width="0.8"/>
<text x="510.40" y="239.40" font-size="6.9" text-anchor="end" fill="#222" textLength="16.9" lengthAdjust="spacingAndGlyphs">0.050</text>
<line x1="512.1" y1="262.70" x2="514.6" y2="262.70" stroke="#333" stroke-width="0.8"/>
<text x="510.40" y="265.15" font-size="6.9" text-anchor="end" fill="#222" textLength="16.9" lengthAdjust="spacingAndGlyphs">0.048</text>
<line x1="512.1" y1="288.45" x2="514.6" y2="288.45" stroke="#333" stroke-width="0.8"/>
<text x="510.40" y="290.90" font-size="6.9" text-anchor="end" fill="#222" textLength="16.9" lengthAdjust="spacingAndGlyphs">0.046</text>
<line x1="512.1" y1="314.20" x2="514.6" y2="314.20" stroke="#333" stroke-width="0.8"/>
<text x="510.40" y="316.65" font-size="6.9" text-anchor="end" fill="#222" textLength="16.9" lengthAdjust="spacingAndGlyphs">0.044</text>
<line x1="516.41" y1="326.8" x2="516.41" y2="328.40000000000003" stroke="#333" stroke-width="0.7"/>
<line x1="519.10" y1="326.8" x2="519.10" y2="328.40000000000003" stroke="#333" stroke-width="0.7"/>
<line x1="521.50" y1="326.8" x2="521.50" y2="329.0" stroke="#333" stroke-width="0.7"/>
<line x1="537.30" y1="326.8" x2="537.30" y2="328.40000000000003" stroke="#333" stroke-width="0.7"/>
<line x1="546.55" y1="326.8" x2="546.55" y2="328.40000000000003" stroke="#333" stroke-width="0.7"/>
<line x1="553.11" y1="326.8" x2="553.11" y2="328.40000000000003" stroke="#333" stroke-width="0.7"/>
<line x1="558.20" y1="326.8" x2="558.20" y2="328.40000000000003" stroke="#333" stroke-width="0.7"/>
<line x1="562.35" y1="326.8" x2="562.35" y2="328.40000000000003" stroke="#333" stroke-width="0.7"/>
<line x1="565.87" y1="326.8" x2="565.87" y2="328.40000000000003" stroke="#333" stroke-width="0.7"/>
<line x1="568.91" y1="326.8" x2="568.91" y2="328.40000000000003" stroke="#333" stroke-width="0.7"/>
<line x1="571.60" y1="326.8" x2="571.60" y2="328.40000000000003" stroke="#333" stroke-width="0.7"/>
<line x1="574.00" y1="326.8" x2="574.00" y2="329.0" stroke="#333" stroke-width="0.7"/>
<line x1="589.80" y1="326.8" x2="589.80" y2="328.40000000000003" stroke="#333" stroke-width="0.7"/>
<line x1="599.05" y1="326.8" x2="599.05" y2="328.40000000000003" stroke="#333" stroke-width="0.7"/>
<line x1="605.61" y1="326.8" x2="605.61" y2="328.40000000000003" stroke="#333" stroke-width="0.7"/>
<line x1="610.70" y1="326.8" x2="610.70" y2="328.40000000000003" stroke="#333" stroke-width="0.7"/>
<line x1="614.85" y1="326.8" x2="614.85" y2="328.40000000000003" stroke="#333" stroke-width="0.7"/>
<line x1="618.37" y1="326.8" x2="618.37" y2="328.40000000000003" stroke="#333" stroke-width="0.7"/>
<line x1="621.41" y1="326.8" x2="621.41" y2="328.40000000000003" stroke="#333" stroke-width="0.7"/>
<line x1="624.10" y1="326.8" x2="624.10" y2="328.40000000000003" stroke="#333" stroke-width="0.7"/>
<line x1="626.50" y1="326.8" x2="626.50" y2="329.0" stroke="#333" stroke-width="0.7"/>
<line x1="642.30" y1="326.8" x2="642.30" y2="328.40000000000003" stroke="#333" stroke-width="0.7"/>
<line x1="651.55" y1="326.8" x2="651.55" y2="328.40000000000003" stroke="#333" stroke-width="0.7"/>
<line x1="658.11" y1="326.8" x2="658.11" y2="328.40000000000003" stroke="#333" stroke-width="0.7"/>
<line x1="663.20" y1="326.8" x2="663.20" y2="328.40000000000003" stroke="#333" stroke-width="0.7"/>
<line x1="667.35" y1="326.8" x2="667.35" y2="328.40000000000003" stroke="#333" stroke-width="0.7"/>
<line x1="670.87" y1="326.8" x2="670.87" y2="328.40000000000003" stroke="#333" stroke-width="0.7"/>
<line x1="673.91" y1="326.8" x2="673.91" y2="328.40000000000003" stroke="#333" stroke-width="0.7"/>
<line x1="676.60" y1="326.8" x2="676.60" y2="328.40000000000003" stroke="#333" stroke-width="0.7"/>
<text x="516.30" y="337.9" font-size="7.0" fill="#222">10<tspan font-size="4.8" dy="-4.3">2</tspan></text>
<text x="568.80" y="337.9" font-size="7.0" fill="#222">10<tspan font-size="4.8" dy="-4.3">3</tspan></text>
<text x="621.30" y="337.9" font-size="7.0" fill="#222">10<tspan font-size="4.8" dy="-4.3">4</tspan></text>
<text x="596.50" y="195.3" font-size="11.25" text-anchor="middle" fill="#111">Thermal conductivity</text>
<text transform="translate(490.9,0) rotate(-90)" fill="#111" font-size="9.2"><tspan x="-302.95" y="0" textLength="18.50" lengthAdjust="spacingAndGlyphs">MAE</tspan><tspan x="-282.55" y="0" textLength="12.30" lengthAdjust="spacingAndGlyphs">[W</tspan><tspan x="-267.80" y="0" text-anchor="middle">·</tspan><tspan x="-265.85" y="0" textLength="7.70" lengthAdjust="spacingAndGlyphs">m</tspan><tspan x="-256.20" y="-3.4" font-size="6.4" textLength="8.80" lengthAdjust="spacingAndGlyphs">−1</tspan><tspan x="-244.10" y="0" text-anchor="middle">·</tspan><tspan x="-242.15" y="0" textLength="7.20" lengthAdjust="spacingAndGlyphs">K</tspan><tspan x="-234.30" y="-3.4" font-size="6.4" textLength="8.00" lengthAdjust="spacingAndGlyphs">−1</tspan><tspan x="-226.25" y="0" textLength="3.10" lengthAdjust="spacingAndGlyphs">]</tspan></text>
<text x="536.0" y="350.3" font-size="8.6" fill="#111" textLength="114.7" lengthAdjust="spacingAndGlyphs">Number of simulation samples</text>
<text y="161.8" fill="#111"><tspan x="313.10" y="161.8" font-size="8.6" textLength="26.80" lengthAdjust="spacingAndGlyphs">0.0684</tspan><tspan x="339.90" y="161.8" font-size="8.6" font-style="italic" textLength="6.40" lengthAdjust="spacingAndGlyphs">n</tspan><tspan x="346.90" y="158.40" font-size="6.2" textLength="24.20" lengthAdjust="spacingAndGlyphs">−0.0145</tspan><tspan x="371.70" y="161.8" font-size="8.6" textLength="40.10" lengthAdjust="spacingAndGlyphs">+1.75×10</tspan><tspan x="412.40" y="158.40" font-size="6.2" textLength="11.70" lengthAdjust="spacingAndGlyphs">−11</tspan></text>
<text y="161.8" fill="#111"><tspan x="516.20" y="161.8" font-size="8.6" textLength="27.40" lengthAdjust="spacingAndGlyphs">0.0538</tspan><tspan x="543.40" y="161.8" font-size="8.6" font-style="italic" textLength="6.20" lengthAdjust="spacingAndGlyphs">n</tspan><tspan x="550.60" y="158.40" font-size="6.2" textLength="23.40" lengthAdjust="spacingAndGlyphs">−0.0354</tspan><tspan x="574.40" y="161.8" font-size="8.6" textLength="40.70" lengthAdjust="spacingAndGlyphs">+2.85×10</tspan><tspan x="616.20" y="158.40" font-size="6.2" textLength="8.00" lengthAdjust="spacingAndGlyphs">−4</tspan></text>
<text y="323.0" fill="#111"><tspan x="313.70" y="323.0" font-size="8.6" textLength="14.10" lengthAdjust="spacingAndGlyphs">162</tspan><tspan x="327.90" y="323.0" font-size="8.6" font-style="italic" textLength="6.30" lengthAdjust="spacingAndGlyphs">n</tspan><tspan x="334.60" y="319.60" font-size="6.2" textLength="19.80" lengthAdjust="spacingAndGlyphs">−0.298</tspan><tspan x="355.20" y="323.0" font-size="8.6" textLength="21.30" lengthAdjust="spacingAndGlyphs">+194</tspan></text>
<text y="323.0" fill="#111"><tspan x="516.50" y="323.0" font-size="8.6" textLength="27.10" lengthAdjust="spacingAndGlyphs">0.0222</tspan><tspan x="543.40" y="323.0" font-size="8.6" font-style="italic" textLength="6.20" lengthAdjust="spacingAndGlyphs">n</tspan><tspan x="550.50" y="319.60" font-size="6.2" textLength="19.50" lengthAdjust="spacingAndGlyphs">−0.146</tspan><tspan x="570.90" y="323.0" font-size="8.6" textLength="34.10" lengthAdjust="spacingAndGlyphs">+0.0394</tspan></text></svg>
</body></html>
